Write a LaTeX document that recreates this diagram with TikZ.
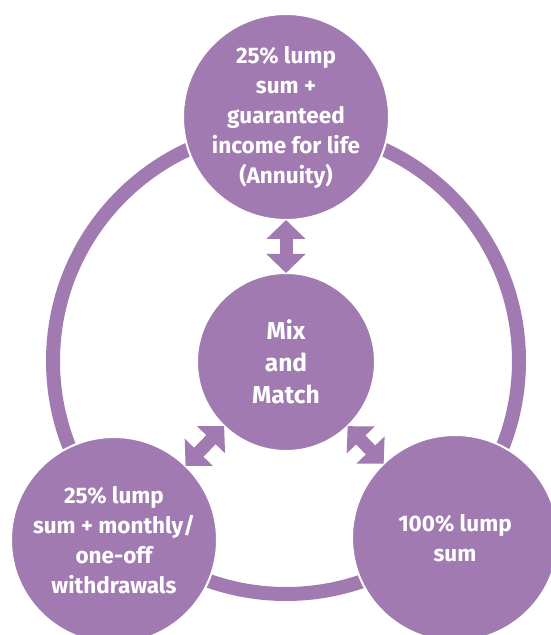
\documentclass[tikz,border=0pt]{standalone}
\usepackage{fontspec}
\setmainfont{Fira Sans}
\definecolor{Lila}{RGB}{160,122,176}
\usetikzlibrary{arrows.meta}
\tikzset{
    bubble/.style={
        circle, fill=Lila, draw=white, line width=2pt,
        minimum size=206pt, inner sep=0pt, outer sep=0pt,
        align=center, text=white,
        font=\fontsize{22.5}{30}\selectfont\bfseries
    },
    link/.style={
        draw=Lila, line width=13pt,
        {Triangle[width=38pt,length=19pt]}-{Triangle[width=38pt,length=19pt]}
    }
}

\begin{document}
\begin{tikzpicture}[x=1pt, y=1pt]

    \useasboundingbox (0,0) rectangle (551,635);

    \coordinate (O) at (286,274);

    % Anillo exterior
    \draw [Lila, line width=14pt] (O) circle [radius=233pt];

    % Opciones
    \node [bubble] (annuity) at (286,518)
        {25\% lump\\sum +\\guaranteed\\income for life\\(Annuity)};
    \node [bubble] (withdraw) at (114,95)
        {25\% lump\\sum + monthly/\\one-off\\withdrawals};
    \node [bubble] (lump) at (455,97)
        {100\% lump\\sum};
    \node [bubble, minimum size=178pt,
           font=\fontsize{24.5}{32}\selectfont\bfseries] (mix) at (286,273)
        {Mix\\and\\Match};

    % Flechas dobles hacia el centro
    \draw [link] (mix) -- (annuity);
    \draw [link] (mix) -- (withdraw);
    \draw [link] (mix) -- (lump);

\end{tikzpicture}
\end{document}
